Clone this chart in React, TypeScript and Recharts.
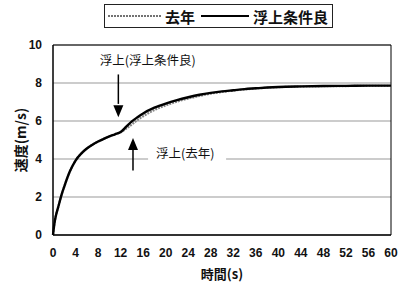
import React from 'react';
import { LineChart, Line, XAxis, YAxis, CartesianGrid, ReferenceArea, ReferenceLine, ReferenceDot } from 'recharts';

const times = [0, 0.25, 0.5, 1, 1.5, 2, 3, 4, 5, 6, 7, 8, 9, 10, 11, 12, 13, 14, 15, 16, 18, 20, 22, 24, 26, 28, 30, 32, 34, 36, 38, 40, 44, 48, 52, 56, 60];
const goodValues = [0, 0.6, 1.0, 1.55, 2.1, 2.55, 3.35, 3.92, 4.28, 4.55, 4.75, 4.92, 5.06, 5.19, 5.3, 5.42, 5.7, 5.98, 6.2, 6.4, 6.7, 6.92, 7.1, 7.25, 7.38, 7.48, 7.56, 7.62, 7.68, 7.72, 7.76, 7.79, 7.82, 7.84, 7.85, 7.86, 7.86];
const lastYearValues = [0, 0.6, 1.0, 1.55, 2.1, 2.55, 3.35, 3.92, 4.28, 4.55, 4.75, 4.92, 5.06, 5.19, 5.3, 5.4, 5.6, 5.82, 6.05, 6.25, 6.58, 6.82, 7.02, 7.18, 7.32, 7.44, 7.53, 7.6, 7.66, 7.71, 7.75, 7.78, 7.81, 7.83, 7.84, 7.85, 7.85];
const xTicks = [0, 4, 8, 12, 16, 20, 24, 28, 32, 36, 40, 44, 48, 52, 56, 60];
const yTicks = [0, 2, 4, 6, 8, 10];

const data = times.map((t, i) => ({ t, lastYear: lastYearValues[i], good: goodValues[i] }));

const CJK = '"Noto Sans CJK JP", "Liberation Sans", sans-serif';
const NUM = '"Liberation Sans", Arial, sans-serif';

const LegendBox = () => (
  <div style={{ position: 'absolute', left: 104, top: 4, border: '1px solid #222', width: 229, height: 24, boxSizing: 'border-box', display: 'flex', alignItems: 'center', fontFamily: CJK, fontWeight: 700, fontSize: 15, color: '#111', background: '#fff' }}>
    <svg width={56} height={10} style={{ marginLeft: 2 }}><line x1={1} y1={5} x2={55} y2={5} stroke="#444" strokeWidth={1.5} strokeDasharray="2 1" /></svg>
    <span style={{ marginLeft: 2 }}>去年</span>
    <svg width={50} height={10} style={{ marginLeft: 5 }}><line x1={1} y1={5} x2={49} y2={5} stroke="#000" strokeWidth={2} /></svg>
    <span style={{ marginLeft: 3 }}>浮上条件良</span>
  </div>
);

const DownHead = (p: any) => (
  <polygon points={`${p.cx - 5},${p.cy - 12} ${p.cx + 5},${p.cy - 12} ${p.cx},${p.cy}`} fill="#000" />
);
const UpHead = (p: any) => (
  <polygon points={`${p.cx - 5},${p.cy + 12} ${p.cx + 5},${p.cy + 12} ${p.cx},${p.cy}`} fill="#000" />
);
const Label1 = (p: any) => (
  <text x={p.cx} y={p.cy} textAnchor="start" dominantBaseline="central" fontFamily={CJK} fontSize={12.5} fill="#111">浮上(浮上条件良)</text>
);
const Label2 = (p: any) => (
  <g>
    <rect x={p.cx - 8} y={p.cy - 9} width={78} height={18} fill="#fff" />
    <text x={p.cx} y={p.cy} textAnchor="start" dominantBaseline="central" fontFamily={CJK} fontSize={12.5} fill="#111">浮上(去年)</text>
  </g>
);

export default function App() {
  return (
    <div style={{ position: 'absolute', left: 0, top: 0, width: 400, height: 290, background: '#fff' }}>
      <LineChart width={400} height={290} data={data} margin={{ top: 45, right: 9, left: 0, bottom: 0 }}>
        <CartesianGrid horizontal vertical={false} stroke="#999" />
        <XAxis
          dataKey="t"
          type="number"
          domain={[0, 60]}
          ticks={xTicks}
          interval={0}
          height={55}
          tickSize={0}
          tickMargin={13}
          axisLine={{ stroke: '#000' }}
          tick={{ fontFamily: NUM, fontSize: 12, fontWeight: 700, fill: '#111' }}
          label={{ value: '時間(s)', position: 'insideBottom', offset: 11, style: { fontFamily: CJK, fontSize: 13, fontWeight: 700, fill: '#111' } }}
        />
        <YAxis
          type="number"
          domain={[0, 10]}
          ticks={yTicks}
          interval={0}
          width={53}
          tickSize={0}
          tickMargin={11}
          axisLine={{ stroke: '#000' }}
          tick={{ fontFamily: NUM, fontSize: 12, fontWeight: 700, fill: '#111' }}
          label={{ value: '速度(m/s)', angle: -90, position: 'insideLeft', offset: 21, style: { textAnchor: 'middle', fontFamily: CJK, fontSize: 14, fontWeight: 700, fill: '#111' } }}
        />
        <ReferenceArea x1={0} x2={60} y1={0} y2={10} fill="none" stroke="#000" strokeWidth={1} />
        <Line type="monotone" dataKey="lastYear" name="去年" stroke="#888" strokeWidth={2.2} strokeDasharray="2 1" dot={false} isAnimationActive={false} />
        <Line type="monotone" dataKey="good" name="浮上条件良" stroke="#000" strokeWidth={2.4} dot={false} isAnimationActive={false} />
        <ReferenceLine segment={[{ x: 11.6, y: 8.45 }, { x: 11.6, y: 6.9 }]} stroke="#000" strokeWidth={1.5} />
        <ReferenceDot x={11.6} y={6.2} shape={DownHead} />
        <ReferenceLine segment={[{ x: 14.2, y: 3.4 }, { x: 14.2, y: 4.5 }]} stroke="#000" strokeWidth={1.5} />
        <ReferenceDot x={14.2} y={5.1} shape={UpHead} />
        <ReferenceDot x={8.3} y={9.25} shape={Label1} />
        <ReferenceDot x={18.3} y={4.35} shape={Label2} />
      </LineChart>
      <LegendBox />
    </div>
  );
}
